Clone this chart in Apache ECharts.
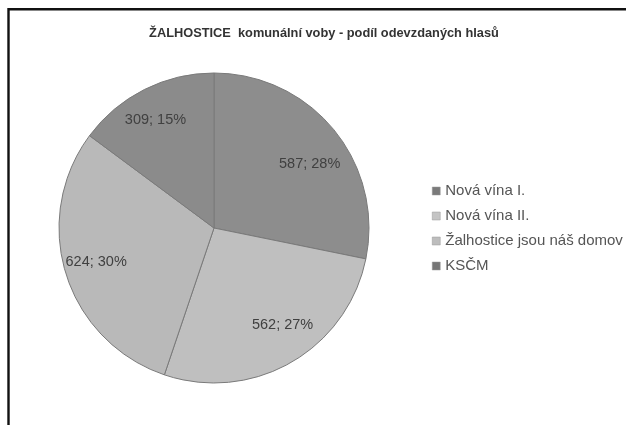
<!DOCTYPE html>
<html>
<head>
<meta charset="utf-8">
<script src="https://cdn.jsdelivr.net/npm/echarts@6/dist/echarts.min.js"></script>
<style>html,body{margin:0;padding:0;background:#fff;}#c{width:626px;height:425px;}</style>
</head>
<body>
<div id="c"></div>
<script>
var titleText = 'ŽALHOSTICE  komunální voby - podíl odevzdaných hlasů';
var categories = ['Nová vína I.', 'Nová vína II.', 'Žalhostice jsou náš domov', 'KSČM'];
var votes = [587, 562, 624, 309];
var colors = ['#8d8d8d', '#bfbfbf', '#b9b9b9', '#8b8b8b'];
var legendColors = ['#7a7a7a', '#c4c4c4', '#bdbdbd', '#767676'];

var pieData = categories.map(function (n, i) {
  return { name: n, value: votes[i], itemStyle: { color: colors[i] } };
});
// small label nudges to mimic the original's best-fit label placement
var labelNudge = [[0, 14], [7, -10], [0, -3], [-3, 2]];
var labelData = categories.map(function (n, i) {
  return { name: n, value: votes[i], label: { offset: labelNudge[i] } };
});

var chart = echarts.init(document.getElementById('c'));
chart.setOption({
  animation: false,
  backgroundColor: '#fff',
  title: {
    text: titleText,
    left: 319, top: 22, textAlign: 'center',
    textStyle: { fontFamily: 'Liberation Sans', fontSize: 12.8, fontWeight: 'bold', color: '#333' }
  },
  legend: {
    orient: 'vertical', left: 427, top: 178,
    itemWidth: 8, itemHeight: 8, itemGap: 9,
    icon: 'rect',
    data: categories.map(function (n, i) {
      return { name: n, itemStyle: { color: legendColors[i], borderColor: '#999', borderWidth: 0.5 } };
    }),
    textStyle: { fontFamily: 'Liberation Sans', fontSize: 15, lineHeight: 16, color: '#555' }
  },
  graphic: [{
    type: 'rect', silent: true, z: 100,
    shape: { x: 8.5, y: 9.2, width: 700, height: 500 },
    style: { fill: 'none', stroke: '#111', lineWidth: 2.4 }
  }],
  series: [{
    type: 'pie',
    center: [214, 228], radius: [0, 155],
    startAngle: 90, clockwise: true,
    percentPrecision: 0,
    data: pieData,
    label: { show: false }, labelLine: { show: false },
    itemStyle: { borderColor: '#7a7a7a', borderWidth: 1 },
    emphasis: { disabled: true }
  }, {
    type: 'pie',
    center: [214, 228], radius: [86, 155],
    startAngle: 90, clockwise: true,
    percentPrecision: 0,
    silent: true,
    legendHoverLink: false,
    data: labelData,
    itemStyle: { color: 'rgba(0,0,0,0)', borderWidth: 0 },
    label: {
      show: true, position: 'inside', formatter: '{c}; {d}%',
      fontFamily: 'Liberation Sans', fontSize: 14.5, color: '#404040'
    },
    labelLine: { show: false },
    emphasis: { disabled: true }
  }]
});
</script>
</body>
</html>
